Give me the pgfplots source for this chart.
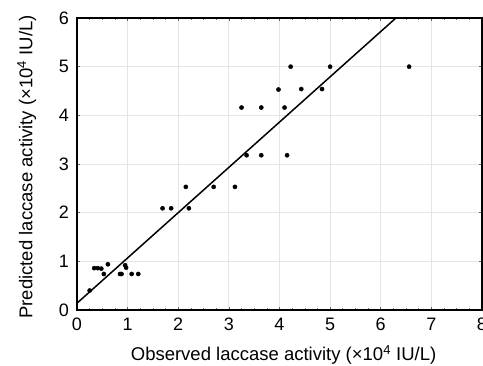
\documentclass[border=0pt]{standalone}
\usepackage{pgfplots}
\pgfplotsset{compat=1.18}
\usepackage{fontspec}
\setmainfont{Liberation Sans}
\begin{document}
\fontsize{18}{21}\selectfont
\begin{tikzpicture}
\begin{axis}[
  at={(0pt,0pt)}, anchor=south west,
  scale only axis, width=405pt, height=292pt,
  xmin=0, xmax=8, ymin=0, ymax=6,
  xtick={0,...,8}, ytick={0,...,6},
  minor x tick num=3,
  grid=major,
  major grid style={draw=black!10, line width=1pt},
  axis line style={line width=1.6pt},
  tick align=inside,
  major tick length=3pt, minor tick length=2pt,
  tick style={black!60, line width=0.6pt},
  /pgf/number format/assume math mode=true,
  ticklabel style={font=\fontsize{18}{21}\selectfont},
  xticklabel style={yshift=-2pt},
  yticklabel style={xshift=-2pt},
  xlabel={Observed laccase activity (×10\textsuperscript{4} IU/L)},
  ylabel={Predicted laccase activity (×10\textsuperscript{4} IU/L)},
  xlabel style={font=\fontsize{18.5}{21}\selectfont, at={(axis description cs:0.51,-0.154)}, anchor=center},
  ylabel style={font=\fontsize{18.5}{21}\selectfont, at={(axis description cs:-0.124,0.49)}, anchor=center},
  clip=true,
]
\addplot[only marks, mark=*, mark size=2.1pt, black] coordinates {
(0.25,0.40)
(0.34,0.86) (0.41,0.86) (0.48,0.85) (0.53,0.74) (0.61,0.94)
(0.85,0.74) (0.88,0.74) (0.95,0.92) (0.97,0.87) (1.08,0.74) (1.21,0.74)
(1.69,2.09) (1.86,2.09) (2.21,2.09)
(2.15,2.53) (2.70,2.53) (3.12,2.53)
(3.35,3.18) (3.64,3.18) (4.15,3.18)
(3.25,4.16) (3.64,4.16) (4.10,4.16)
(3.98,4.53) (4.43,4.54) (4.84,4.54)
(4.22,5.00) (5.00,5.00) (6.56,5.00)
};
\addplot[black, line width=1.5pt] coordinates {(0,0.14) (6.45,6.14)};
\end{axis}
\pgfresetboundingbox
\path[use as bounding box] (-77pt,-55pt) rectangle (406pt,310pt);
\end{tikzpicture}
\end{document}
